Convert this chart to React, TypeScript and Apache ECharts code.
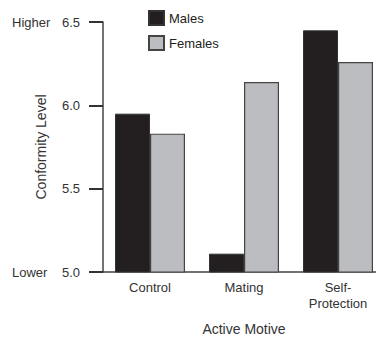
import React, { useEffect, useRef } from "react";
import * as echarts from "echarts";

const categories = ["Control", "Mating", "Self-\nProtection"];
const males = [5.95, 5.11, 6.45];
const females = [5.83, 6.14, 6.26];
const yTicks: Record<string, string> = { "5": "Lower", "6.5": "Higher" };

export default function App() {
  const ref = useRef<HTMLDivElement>(null);
  useEffect(() => {
    if (!ref.current) return;
    const chart = echarts.init(ref.current, undefined, { renderer: "svg" });
    const font = "'Liberation Sans', Arial, Helvetica, sans-serif";
    chart.setOption({
      animation: false,
      textStyle: { fontFamily: font },
      grid: { left: 103, top: 22, bottom: 69, right: 0, containLabel: false },
      legend: {
        orient: "vertical",
        left: 143,
        top: 5,
        itemWidth: 15,
        itemHeight: 14,
        itemGap: 9,
        icon: "rect",
        textStyle: { fontSize: 13, color: "#222", fontFamily: font },
        data: ["Males", "Females"],
      },
      xAxis: {
        type: "category",
        data: categories,
        axisLine: { lineStyle: { color: "#444", width: 1.5 } },
        axisTick: { show: false },
        axisLabel: { fontSize: 13, color: "#333", margin: 7, lineHeight: 16, fontFamily: font },
        name: "Active Motive",
        nameLocation: "middle",
        nameGap: 50,
        nameMoveOverlap: false,
        nameTextStyle: { fontSize: 14, color: "#333", fontFamily: font },
      },
      yAxis: {
        type: "value",
        min: 5,
        max: 6.5,
        interval: 0.5,
        splitLine: { show: false },
        axisLine: { show: true, lineStyle: { color: "#444", width: 1.5 } },
        axisTick: { show: true, inside: false, length: 14, lineStyle: { color: "#333", width: 2 } },
        axisLabel: {
          margin: 23,
          fontSize: 13,
          color: "#333",
          fontFamily: font,
          formatter: (v: number) => {
            const s = v.toFixed(1);
            const extra = yTicks[String(v)];
            return extra ? `{a|${extra}}{b|${s}}` : `{b|${s}}`;
          },
          rich: {
            a: { fontSize: 13, color: "#333", width: 48, align: "left", fontFamily: font },
            b: { fontSize: 13, color: "#333", width: 20, align: "right", fontFamily: font },
          },
        },
        name: "Conformity Level",
        nameLocation: "middle",
        nameGap: 55,
        nameMoveOverlap: false,
        nameTextStyle: { fontSize: 14, color: "#333", fontFamily: font },
      },
      series: [
        {
          name: "Males",
          type: "bar",
          data: males,
          barWidth: 35,
          barGap: "0%",
          itemStyle: { color: "#231f20", borderColor: "#333", borderWidth: 1 },
        },
        {
          name: "Females",
          type: "bar",
          data: females,
          barWidth: 35,
          barGap: "0%",
          itemStyle: { color: "#bcbdc0", borderColor: "#444", borderWidth: 1.2 },
        },
      ],
    });
    return () => chart.dispose();
  }, []);
  return (
    <div style={{ position: "absolute", left: 0, top: 0, width: 376, height: 341, overflow: "hidden" }}>
      <div ref={ref} style={{ width: 385, height: 341 }} />
    </div>
  );
}
